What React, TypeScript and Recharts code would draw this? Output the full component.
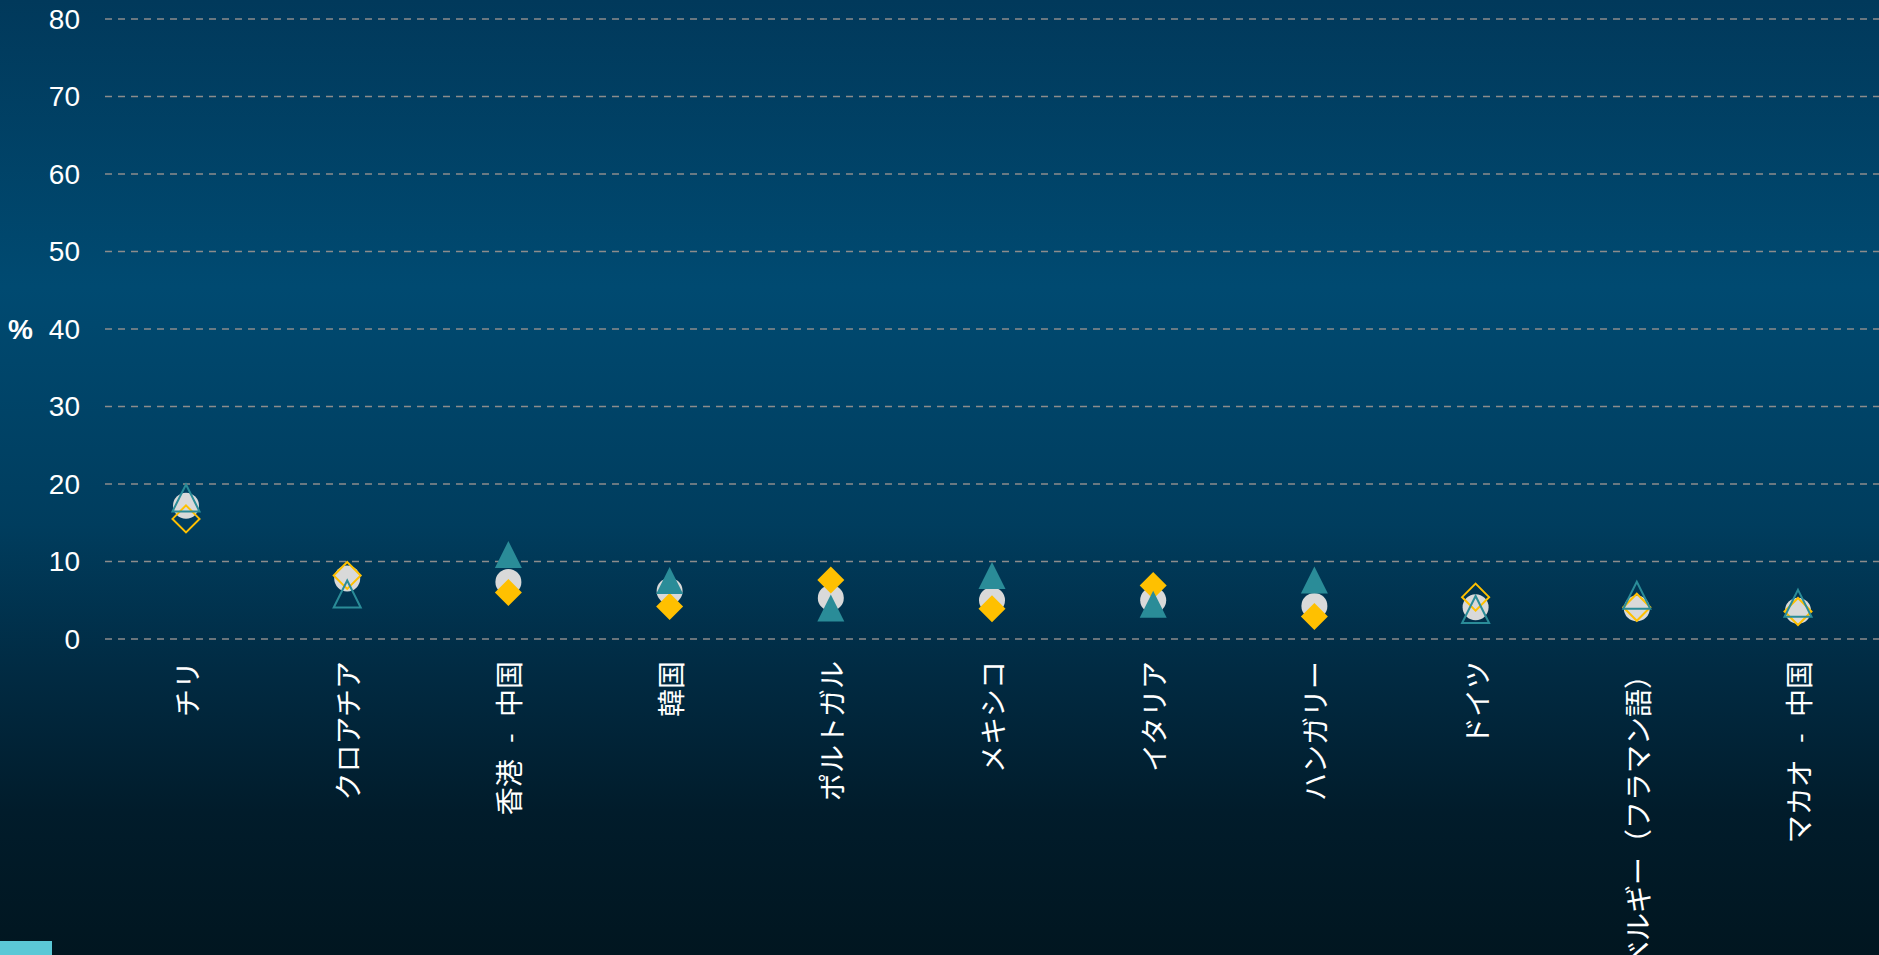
import React from 'react';
import {
  CartesianGrid,
  ComposedChart,
  Scatter,
  XAxis,
  YAxis,
} from 'recharts';

const categories = [
  'チリ',
  'クロアチア',
  '香港 - 中国',
  '韓国',
  'ポルトガル',
  'メキシコ',
  'イタリア',
  'ハンガリー',
  'ドイツ',
  'ベルギー（フラマン語）',
  'マカオ - 中国',
];
const circleValues = [17.2, 7.8, 7.35, 6.2, 5.3, 5.0, 5.0, 4.25, 4.1, 3.95, 3.65];
const triangleValues = [18.2, 5.8, 10.9, 7.55, 4.0, 8.2, 4.5, 7.6, 3.8, 5.65, 4.6];
const diamondValues = [15.5, 8.2, 6.0, 4.2, 7.6, 3.9, 6.9, 2.9, 5.4, 4.1, 3.55];
const triangleHollow = [true, true, false, false, false, false, false, false, true, true, true];
const diamondHollow = [true, true, false, false, false, false, false, false, true, true, true];
const yTicks = [0, 10, 20, 30, 40, 50, 60, 70, 80];

const rows = categories.map((name, i) => ({
  name,
  circle: circleValues[i],
  triangle: triangleValues[i],
  diamond: diamondValues[i],
  triHollow: triangleHollow[i],
  diaHollow: diamondHollow[i],
}));

const TEAL = '#2a8c98';
const GOLD = '#ffc000';
const GREY = '#d9d9d9';

const CircleShape = (props: any) => {
  const { cx, cy } = props;
  return <circle cx={cx} cy={cy} r={13} fill={GREY} />;
};

const TriangleShape = (props: any) => {
  const { cx, cy, payload } = props;
  const h = 13.5;
  const d = `M${cx},${cy - h} L${cx + h},${cy + h} L${cx - h},${cy + h} Z`;
  return payload.triHollow ? (
    <path d={d} fill="none" stroke={TEAL} strokeWidth={2} />
  ) : (
    <path d={d} fill={TEAL} />
  );
};

const DiamondShape = (props: any) => {
  const { cx, cy, payload } = props;
  const h = 13.5;
  const d = `M${cx},${cy - h} L${cx + h},${cy} L${cx},${cy + h} L${cx - h},${cy} Z`;
  return payload.diaHollow ? (
    <path d={d} fill="none" stroke={GOLD} strokeWidth={2} />
  ) : (
    <path d={d} fill={GOLD} />
  );
};

const XTick = (props: any) => {
  const { x, y, payload } = props;
  return (
    <text
      x={x}
      y={y}
      transform={`rotate(-90, ${x}, ${y})`}
      textAnchor="end"
      dominantBaseline="central"
      fill="#ffffff"
      fontSize={28}
      wordSpacing={10}
      fontFamily="'Noto Sans CJK JP', sans-serif"
    >
      {payload.value}
    </text>
  );
};

export default function App() {
  return (
    <div
      style={{
        position: 'absolute',
        left: 0,
        top: 0,
        width: 1879,
        height: 955,
        overflow: 'hidden',
        background:
          'linear-gradient(to bottom, #01395b 0%, #004a71 30%, #003d5e 55%, #012b43 70%, #011c2b 85%, #011620 100%)',
      }}
    >
      <ComposedChart
        width={1879}
        height={955}
        data={rows}
        margin={{ top: 19, right: 0, bottom: 0, left: 0 }}
      >
        <CartesianGrid
          horizontal
          vertical={false}
          stroke="#8c8c8c"
          strokeWidth={1.5}
          strokeDasharray="7 6"
        />
        <XAxis
          dataKey="name"
          type="category"
          axisLine={false}
          tickLine={false}
          interval={0}
          height={316}
          padding={{ left: 81, right: 81 }}
          tickSize={0}
          tickMargin={22}
          tick={<XTick />}
        />
        <YAxis
          type="number"
          domain={[0, 80]}
          ticks={yTicks}
          width={105}
          axisLine={false}
          tickLine={false}
          tickSize={0}
          tickMargin={25}
          tick={{ fill: '#ffffff', fontSize: 28, fontFamily: "'Liberation Sans', Arial, sans-serif" }}
          label={{
            value: '%',
            position: 'insideLeft',
            offset: 8,
            fill: '#ffffff',
            fontSize: 28,
            fontWeight: 'bold',
            fontFamily: "'Liberation Sans', Arial, sans-serif",
          }}
        />
        <Scatter dataKey="circle" shape={<CircleShape />} isAnimationActive={false} />
        <Scatter dataKey="diamond" shape={<DiamondShape />} isAnimationActive={false} />
        <Scatter dataKey="triangle" shape={<TriangleShape />} isAnimationActive={false} />
      </ComposedChart>
      <div
        style={{
          position: 'absolute',
          left: 0,
          top: 941,
          width: 52,
          height: 14,
          background: '#5bc8d6',
        }}
      />
    </div>
  );
}
